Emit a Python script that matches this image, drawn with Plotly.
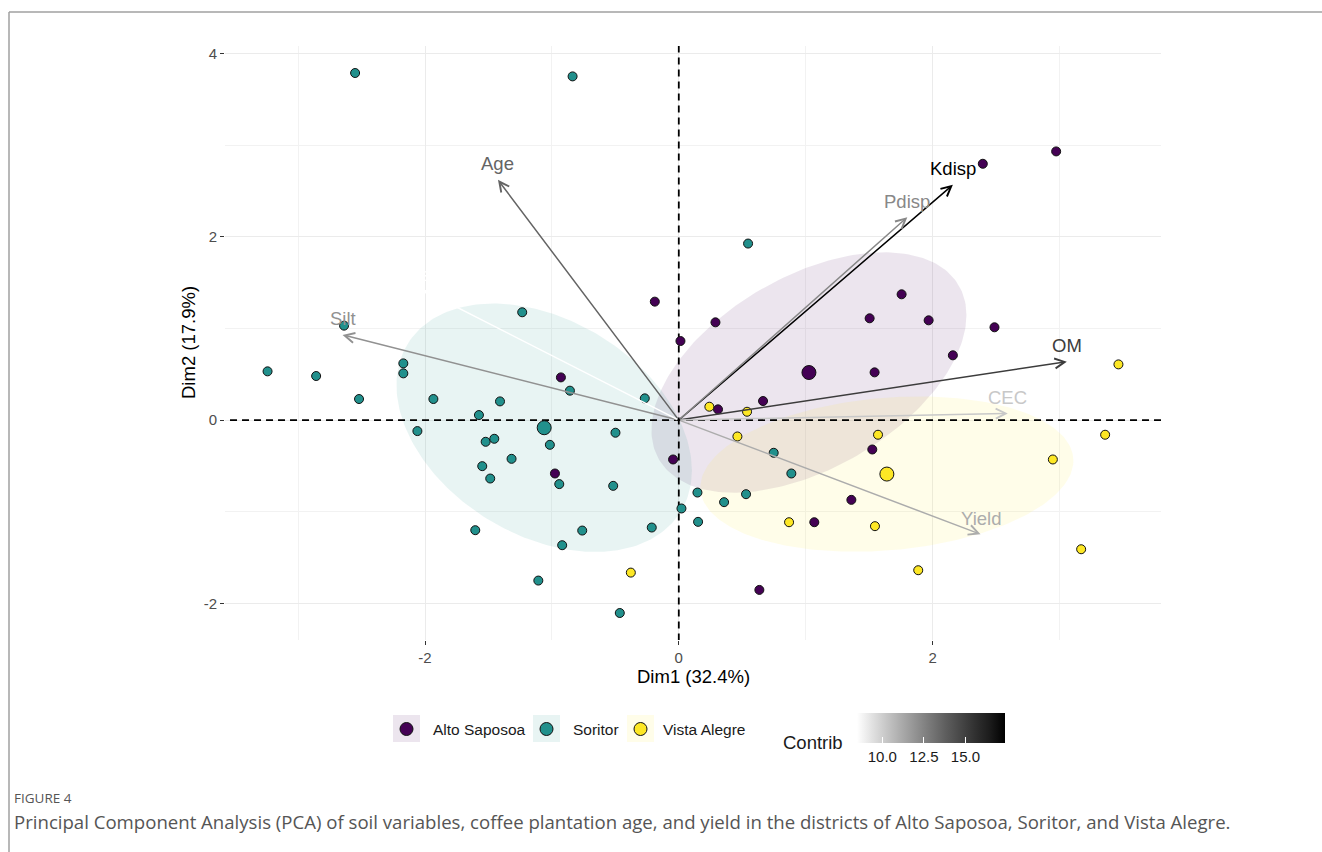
import numpy as np
import plotly.graph_objects as go

W, H = 1322, 852

# ---- individuals on Dim1 / Dim2, grouped by district ----
alto_x = [2.974, 2.396, 1.756, 1.504, 1.969, 2.488, 0.289, 0.013, 2.160, 1.543,
          0.664, 0.309, -0.189, -0.929, -0.976, -0.045, 1.525, 1.360, 1.068, 0.635]
alto_y = [2.933, 2.798, 1.373, 1.111, 1.089, 1.013, 1.067, 0.863, 0.707, 0.521,
          0.208, 0.117, 1.293, 0.466, -0.583, -0.430, -0.321, -0.871, -1.115, -1.854]

soritor_x = [-2.551, -0.837, -1.234, -2.638, -3.241, -2.858, -2.171, -2.171, -2.520, -1.934,
             -1.409, -0.858, -0.268, -1.575, -2.060, -0.499, -1.522, -1.454, -1.016, -1.318,
             -1.549, -1.486, -0.942, -0.517, 0.021, -1.604, -0.761, -0.213, -0.919, -1.107,
             -0.465, 0.546, 0.748, 0.887, 0.147, 0.530, 0.357, 0.152]
soritor_y = [3.789, 3.752, 1.177, 1.031, 0.532, 0.481, 0.619, 0.510, 0.230, 0.230,
             0.204, 0.321, 0.237, 0.055, -0.120, -0.138, -0.237, -0.204, -0.270, -0.423,
             -0.503, -0.638, -0.699, -0.718, -0.965, -1.202, -1.206, -1.173, -1.366, -1.752,
             -2.106, 1.927, -0.357, -0.583, -0.791, -0.809, -0.896, -1.111]

vista_x = [3.465, 0.241, 0.538, 0.462, 1.570, 3.360, 2.948, 0.869, 1.546, 3.171, 1.887, -0.378]
vista_y = [0.608, 0.146, 0.091, -0.179, -0.160, -0.160, -0.430, -1.115, -1.158, -1.410, -1.639, -1.665]

DISTRICTS = ["Alto Saposoa", "Soritor", "Vista Alegre"]
DISTRICT_COLORS = ["#440154", "#21908C", "#FDE725"]
GROUPS = [(alto_x, alto_y), (soritor_x, soritor_y), (vista_x, vista_y)]

# ---- variables: biplot coordinates and contribution to Dim1-2 (%) ----
VAR_NAMES = ["Age", "Silt", "Clay", "Kdisp", "Pdisp", "OM", "CEC", "Yield"]
VAR_X = [-1.425, -2.650, -2.016, 2.160, 1.801, 3.058, 2.593, 2.378]
VAR_Y = [2.623, 0.930, 1.420, 2.568, 2.215, 0.638, 0.073, -1.246]
VAR_CONTRIB = [13.6, 12.0, 8.46, 17.36, 12.3, 15.1, 10.2, 11.1]

DIM1_LABEL = "Dim1 (32.4%)"
DIM2_LABEL = "Dim2 (17.9%)"
X_TICKS, X_TICKTEXT = [-2, 0, 2], ["-2", "0", "2"]
Y_TICKS, Y_TICKTEXT = [-2, 0, 2, 4], ["-2", "0", "2", "4"]
X_MINOR, Y_MINOR = [-3, -1, 1, 3], [-1, 1, 3]
CONTRIB_TICKS, CONTRIB_TICKTEXT = [10.0, 12.5, 15.0], ["10.0", "12.5", "15.0"]

FIG_LABEL = "FIGURE 4"
CAPTION = ("Principal Component Analysis (PCA) of soil variables, coffee plantation age, "
           "and yield in the districts of Alto Saposoa, Soritor, and Vista Alegre.")

ELLIPSE_SCALE = 1.1
FONT = "Liberation Sans, Arial, sans-serif"
CAPTION_FONT = "Open Sans, sans-serif"


def px(x):
    return x / W


def py(y):
    return 1 - y / H


def lab_grey(t):
    """White-to-black ramp interpolated in CIE Lab lightness."""
    L = 100.0 * (1.0 - t)
    fy = (L + 16.0) / 116.0
    Y = fy ** 3 if fy ** 3 > 0.008856 else L / 903.3
    v = 12.92 * Y if Y <= 0.0031308 else 1.055 * Y ** (1 / 2.4) - 0.055
    g = int(round(255 * min(max(v, 0.0), 1.0)))
    return f"rgb({g},{g},{g})"


def rgba(hex_color, a):
    h = hex_color.lstrip("#")
    r, g, b = int(h[0:2], 16), int(h[2:4], 16), int(h[4:6], 16)
    return f"rgba({r},{g},{b},{a})"


def group_ellipse(xs, ys, scale, n=240):
    pts = np.column_stack([xs, ys])
    mu = pts.mean(axis=0)
    chol = np.linalg.cholesky(np.cov(pts.T))
    t = np.linspace(0, 2 * np.pi, n)
    e = mu[:, None] + scale * chol @ np.vstack([np.cos(t), np.sin(t)])
    return e[0], e[1]


cmin, cmax = min(VAR_CONTRIB), max(VAR_CONTRIB)
GREY_SCALE = [[i / 10, lab_grey(i / 10)] for i in range(11)]


def contrib_color(c):
    return lab_grey((c - cmin) / (cmax - cmin))


def paper_text(x, y, text, size, color="#1A1A1A", family=FONT, xanchor="center", **kw):
    return dict(x=px(x), y=py(y), xref="paper", yref="paper", text=text, showarrow=False,
                xanchor=xanchor, yanchor="middle",
                font=dict(family=family, size=size, color=color), **kw)


fig = go.Figure()

# group ellipses
for (gx, gy), col in zip(GROUPS, DISTRICT_COLORS):
    ex, ey = group_ellipse(gx, gy, ELLIPSE_SCALE)
    fig.add_trace(go.Scatter(x=ex, y=ey, mode="lines", fill="toself",
                             fillcolor=rgba(col, 0.1), line=dict(width=0),
                             hoverinfo="skip", showlegend=False))

# reference lines through the origin (drawn as traces so they sit on the ellipses)
fig.add_trace(go.Scatter(x=[0, 0], y=[-100, 100], mode="lines", hoverinfo="skip", showlegend=False,
                         line=dict(color="black", width=1.8, dash="7px,5px")))
fig.add_trace(go.Scatter(x=[-100, 100], y=[0, 0], mode="lines", hoverinfo="skip", showlegend=False,
                         line=dict(color="black", width=1.8, dash="7px,5px")))

# individuals and group means
for (gx, gy), col, name in zip(GROUPS, DISTRICT_COLORS, DISTRICTS):
    fig.add_trace(go.Scatter(x=gx, y=gy, mode="markers", name=name,
                             marker=dict(size=9, color=col, line=dict(width=1, color="#111111")),
                             showlegend=False))
    fig.add_trace(go.Scatter(x=[np.mean(gx)], y=[np.mean(gy)], mode="markers",
                             marker=dict(size=14, color=col, line=dict(width=1, color="#111111")),
                             hoverinfo="skip", showlegend=False))

# invisible carrier for the contribution colour bar
fig.add_trace(go.Scatter(
    x=VAR_X, y=VAR_Y, mode="markers", hoverinfo="skip", showlegend=False,
    marker=dict(size=1, opacity=0, color=VAR_CONTRIB, colorscale=GREY_SCALE,
                cmin=cmin, cmax=cmax, showscale=True,
                colorbar=dict(orientation="h", x=px(856.7), xanchor="left",
                              y=py(713), yanchor="top", len=148.3 / W, lenmode="fraction",
                              thickness=30, thicknessmode="pixels", outlinewidth=0,
                              xpad=0, ypad=0, tickvals=CONTRIB_TICKS,
                              ticktext=CONTRIB_TICKTEXT,
                              ticks="inside", ticklen=6, tickcolor="white", tickwidth=1,
                              tickfont=dict(family=FONT, size=15, color="#1A1A1A")))))

annotations = []
# variable arrows and labels
for name, vx, vy, c in zip(VAR_NAMES, VAR_X, VAR_Y, VAR_CONTRIB):
    col = contrib_color(c)
    annotations.append(dict(x=vx, y=vy, ax=0, ay=0, xref="x", yref="y", axref="x", ayref="y",
                            text="", showarrow=True, arrowhead=5, arrowsize=1.3,
                            arrowwidth=1.5, arrowcolor=col, standoff=0, startstandoff=0))
    annotations.append(dict(x=vx, y=vy, xref="x", yref="y", text=name, showarrow=False,
                            yshift=16, xanchor="center", yanchor="middle",
                            font=dict(family=FONT, size=18.5, color=col)))

# axis titles
annotations.append(paper_text(693, 676, DIM1_LABEL, 18.5, color="black"))
annotations.append(paper_text(188, 343, DIM2_LABEL, 18.5, color="black", textangle=-90))

# legend for districts
shapes = []
legend_keys = [(393, 431), (533, 571), (627, 661)]
for (kx, tx), col, name in zip(legend_keys, DISTRICT_COLORS, DISTRICTS):
    shapes.append(dict(type="rect", xref="paper", yref="paper",
                       x0=px(kx), x1=px(kx + 27), y0=py(742), y1=py(715),
                       fillcolor=rgba(col, 0.1), line=dict(width=0), layer="above"))
    cx = kx + 13.5
    shapes.append(dict(type="circle", xref="paper", yref="paper",
                       x0=px(cx - 6.5), x1=px(cx + 6.5), y0=py(735.5), y1=py(722.5),
                       fillcolor=col, line=dict(width=1, color="#111111"), layer="above"))
    annotations.append(paper_text(tx, 729, name, 15.5, xanchor="left"))

annotations.append(paper_text(845, 742, "Contrib", 18.5, xanchor="right"))

# caption
annotations.append(paper_text(12, 798, FIG_LABEL, 13.5, color="#555555",
                              family=CAPTION_FONT, xanchor="left"))
annotations.append(paper_text(12, 821, CAPTION, 18.6, color="#555555",
                              family=CAPTION_FONT, xanchor="left"))

# page frame
shapes.append(dict(type="line", xref="paper", yref="paper", x0=px(9), x1=1, y0=py(12), y1=py(12),
                   line=dict(color="#A0A0A0", width=1.5)))
shapes.append(dict(type="line", xref="paper", yref="paper", x0=px(9), x1=px(9), y0=py(12), y1=0,
                   line=dict(color="#A0A0A0", width=1.5)))

# axis limits: data extent with 5% expansion
all_x = np.concatenate([alto_x, soritor_x, vista_x, VAR_X])
all_y = np.concatenate([alto_y, soritor_y, vista_y, VAR_Y])
xr = [all_x.min(), all_x.max()]
yr = [all_y.min(), all_y.max()]
xpad = 0.05 * (xr[1] - xr[0])
ypad = 0.05 * (yr[1] - yr[0])

axis_common = dict(showline=False, zeroline=False, gridcolor="#EBEBEB", gridwidth=1.1,
                   ticks="outside", ticklen=4, tickwidth=1.2, tickcolor="#333333",
                   tickfont=dict(family=FONT, size=15, color="#4D4D4D"), automargin=False)

fig.update_layout(
    width=W, height=H, margin=dict(l=0, r=0, t=0, b=0),
    paper_bgcolor="white", plot_bgcolor="white", showlegend=False,
    xaxis=dict(domain=[px(225), px(1161)], range=[xr[0] - xpad, xr[1] + xpad],
               tickvals=X_TICKS, ticktext=X_TICKTEXT,
               minor=dict(tickvals=X_MINOR, showgrid=True, gridcolor="#F2F2F2", gridwidth=0.6, ticks=""),
               **axis_common),
    yaxis=dict(domain=[py(640), py(46)], range=[yr[0] - ypad, yr[1] + ypad],
               tickvals=Y_TICKS, ticktext=Y_TICKTEXT,
               minor=dict(tickvals=Y_MINOR, showgrid=True, gridcolor="#F2F2F2", gridwidth=0.6, ticks=""),
               **axis_common),
    annotations=annotations, shapes=shapes,
)

fig.write_html("out.html")
